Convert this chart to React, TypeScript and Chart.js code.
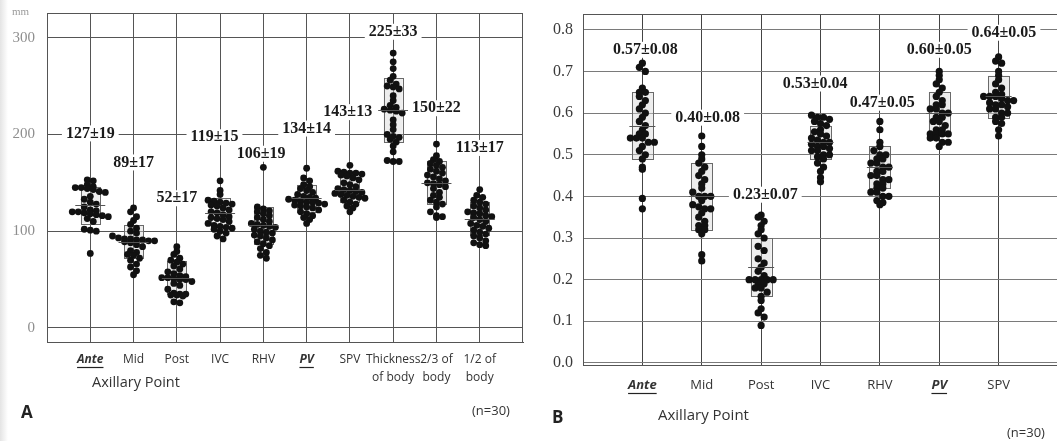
import React, { useEffect, useRef } from "react";
import { Chart, registerables } from "chart.js";

Chart.register(...registerables);

// ---------- Panel A data (mm) ----------
const catsA: (string | string[])[] = ["Ante", "Mid", "Post", "IVC", "RHV", "PV", "SPV", ["Thickness", "of body"], ["2/3 of", "body"], ["1/2 of", "body"]];
const emphA = [0, 5];
const yTicksA = [0, 100, 200, 300];
const meansA = [127, 89, 52, 119, 106, 134, 143, 225, 150, 113];
const sdA = [19, 17, 17, 15, 19, 14, 13, 33, 22, 17];
const labelXA = [0, 1, 2, 2.87, 3.95, 5, 5.95, 7, 8, 9];
const labelYA = [201, 171, 134, 197, 180, 206, 223, 306, 227, 186];

const anteA = [153, 152, 148, 146, 145, 145, 144, 143, 141, 140, 136, 133, 130, 128, 125, 122, 121, 120, 120, 119, 118, 117, 116, 115, 113, 110, 102, 101, 100, 77];
const midA = [124, 120, 115, 111, 107, 103, 100, 98, 95, 93, 92, 92, 91, 91, 90, 90, 89, 88, 86, 84, 80, 78, 76, 75, 72, 70, 66, 63, 59, 55];
const postA = [84, 79, 76, 72, 70, 68, 66, 64, 61, 58, 56, 54, 53, 52, 52, 51, 50, 50, 48, 46, 44, 40, 36, 35, 35, 34, 34, 33, 27, 26];
const ivcA = [152, 142, 138, 132, 131, 130, 129, 128, 127, 126, 124, 122, 120, 119, 117, 115, 114, 113, 112, 110, 108, 106, 105, 104, 103, 102, 100, 98, 95, 92];
const rhvA = [166, 125, 123, 121, 120, 118, 116, 114, 112, 110, 108, 107, 106, 105, 104, 102, 100, 99, 98, 96, 95, 93, 91, 89, 87, 85, 82, 78, 75, 72];
const pvA = [165, 155, 152, 148, 146, 144, 142, 140, 138, 136, 135, 134, 133, 132, 131, 130, 130, 129, 128, 127, 126, 125, 124, 122, 120, 118, 116, 114, 112, 108];
const spvA = [168, 162, 161, 160, 160, 159, 158, 157, 155, 153, 150, 148, 146, 144, 143, 142, 141, 140, 139, 138, 137, 136, 135, 134, 132, 130, 128, 126, 124, 120];
const thickA = [284, 275, 268, 260, 256, 252, 250, 249, 247, 240, 235, 230, 228, 226, 225, 224, 222, 215, 210, 205, 200, 198, 197, 195, 192, 188, 182, 173, 172, 172];
const twoThirdA = [190, 178, 174, 172, 170, 168, 166, 164, 162, 160, 158, 156, 154, 152, 150, 149, 148, 146, 144, 140, 137, 135, 132, 130, 128, 125, 120, 116, 115, 114];
const halfA = [143, 137, 135, 132, 130, 128, 126, 124, 122, 120, 119, 118, 116, 115, 114, 112, 110, 108, 106, 105, 103, 101, 99, 97, 95, 93, 90, 88, 86, 85];
const seriesA = [anteA, midA, postA, ivcA, rhvA, pvA, spvA, thickA, twoThirdA, halfA];

// ---------- Panel B data (ratio) ----------
const catsB: string[] = ["Ante", "Mid", "Post", "IVC", "RHV", "PV", "SPV"];
const emphB = [0, 5];
const yTicksB = [0, 0.1, 0.2, 0.3, 0.4, 0.5, 0.6, 0.7, 0.8];
const meansB = [0.57, 0.4, 0.23, 0.53, 0.47, 0.6, 0.64];
const sdB = [0.08, 0.08, 0.07, 0.04, 0.05, 0.05, 0.05];
const labelXB = [0.05, 1.1, 2.07, 2.91, 4.04, 5.0, 6.09];
const labelYB = [0.752, 0.589, 0.404, 0.671, 0.625, 0.752, 0.793];

const anteB = [0.72, 0.71, 0.7, 0.66, 0.65, 0.65, 0.64, 0.63, 0.62, 0.61, 0.6, 0.59, 0.58, 0.57, 0.56, 0.55, 0.55, 0.54, 0.54, 0.54, 0.53, 0.53, 0.52, 0.51, 0.5, 0.49, 0.47, 0.465, 0.395, 0.37];
const midB = [0.545, 0.52, 0.5, 0.49, 0.48, 0.47, 0.46, 0.45, 0.44, 0.43, 0.42, 0.41, 0.4, 0.4, 0.4, 0.39, 0.38, 0.375, 0.37, 0.37, 0.36, 0.35, 0.34, 0.33, 0.33, 0.32, 0.32, 0.31, 0.26, 0.245];
const postB = [0.355, 0.35, 0.34, 0.33, 0.32, 0.31, 0.3, 0.28, 0.27, 0.25, 0.24, 0.23, 0.22, 0.21, 0.2, 0.2, 0.2, 0.2, 0.2, 0.19, 0.19, 0.18, 0.18, 0.17, 0.16, 0.15, 0.13, 0.12, 0.11, 0.09];
const ivcB = [0.595, 0.59, 0.59, 0.585, 0.58, 0.575, 0.57, 0.56, 0.555, 0.55, 0.545, 0.54, 0.535, 0.53, 0.53, 0.525, 0.52, 0.52, 0.515, 0.51, 0.51, 0.5, 0.5, 0.495, 0.49, 0.48, 0.47, 0.46, 0.445, 0.435];
const rhvB = [0.58, 0.56, 0.53, 0.52, 0.51, 0.5, 0.5, 0.49, 0.49, 0.48, 0.48, 0.47, 0.47, 0.46, 0.46, 0.45, 0.45, 0.44, 0.44, 0.43, 0.43, 0.42, 0.42, 0.41, 0.41, 0.4, 0.4, 0.39, 0.385, 0.38];
const pvB = [0.7, 0.69, 0.68, 0.67, 0.66, 0.65, 0.64, 0.63, 0.62, 0.62, 0.61, 0.61, 0.6, 0.6, 0.59, 0.59, 0.58, 0.58, 0.57, 0.56, 0.56, 0.55, 0.55, 0.55, 0.55, 0.54, 0.54, 0.53, 0.53, 0.52];
const spvB = [0.735, 0.725, 0.72, 0.7, 0.69, 0.68, 0.67, 0.66, 0.65, 0.645, 0.64, 0.64, 0.64, 0.635, 0.63, 0.63, 0.625, 0.62, 0.62, 0.615, 0.61, 0.61, 0.6, 0.6, 0.59, 0.59, 0.58, 0.575, 0.56, 0.545];
const seriesB = [anteB, midB, postB, ivcB, rhvB, pvB, spvB];

// ---------- helpers ----------
function swarmPoints(series: number[][], pxPerY: number, pxPerX: number, step: number) {
  const pts: { x: number; y: number }[] = [];
  series.forEach((vals, i) => {
    const bins = new Map<number, number[]>();
    vals.forEach((v, k) => {
      const b = Math.round((v * pxPerY) / step);
      if (!bins.has(b)) bins.set(b, []);
      bins.get(b)!.push(k);
    });
    bins.forEach((ks) => {
      ks.forEach((k, j) => {
        const off = ((j - (ks.length - 1) / 2) * step) / pxPerX;
        pts.push({ x: i + off, y: vals[k] });
      });
    });
  });
  return pts;
}

function boxPlugin(means: number[], sds: number[], halfW: number, meanHalf: number) {
  return {
    id: "boxes",
    beforeDatasetsDraw(chart: any) {
      const { ctx, scales } = chart;
      const x = scales.x, y = scales.y;
      ctx.save();
      means.forEach((m, i) => {
        const px = x.getPixelForValue(i);
        const top = y.getPixelForValue(m + sds[i]);
        const bot = y.getPixelForValue(m - sds[i]);
        ctx.fillStyle = "rgba(215,215,215,0.45)";
        ctx.fillRect(px - halfW, top, halfW * 2, bot - top);
        ctx.strokeStyle = "#6a6a6a";
        ctx.lineWidth = 1;
        ctx.strokeRect(Math.round(px - halfW) + 0.5, Math.round(top) + 0.5, Math.round(halfW * 2), Math.round(bot - top));
      });
      ctx.restore();
    },
    afterDatasetsDraw(chart: any) {
      const { ctx, scales } = chart;
      const x = scales.x, y = scales.y;
      ctx.save();
      ctx.strokeStyle = "#555";
      ctx.lineWidth = 1;
      means.forEach((m, i) => {
        const px = x.getPixelForValue(i);
        const py = Math.round(y.getPixelForValue(m)) + 0.5;
        ctx.beginPath();
        ctx.moveTo(px - meanHalf, py);
        ctx.lineTo(px + meanHalf, py);
        ctx.stroke();
      });
      ctx.restore();
    },
  };
}

function labelPlugin(texts: string[], lx: number[], ly: number[], font: string) {
  return {
    id: "statLabels",
    afterDatasetsDraw(chart: any) {
      const { ctx, scales } = chart;
      ctx.save();
      ctx.font = font;
      ctx.textAlign = "center";
      ctx.textBaseline = "middle";
      texts.forEach((t, i) => {
        const px = scales.x.getPixelForValue(lx[i]);
        const py = scales.y.getPixelForValue(ly[i]);
        const w = ctx.measureText(t).width;
        ctx.fillStyle = "#fff";
        ctx.fillRect(px - w / 2 - 4, py - 8, w + 8, 16);
        ctx.fillStyle = "#1a1a1a";
        ctx.fillText(t, px, py);
      });
      ctx.restore();
    },
  };
}

function framePlugin(color: string, right: boolean) {
  return {
    id: "frame",
    afterDraw(chart: any) {
      const { ctx, chartArea: a } = chart;
      ctx.save();
      ctx.strokeStyle = color;
      ctx.lineWidth = 1;
      ctx.beginPath();
      ctx.moveTo(a.left, Math.round(a.top) + 0.5);
      ctx.lineTo(a.right, Math.round(a.top) + 0.5);
      if (right) {
        ctx.moveTo(Math.round(a.right) - 0.5, a.top);
        ctx.lineTo(Math.round(a.right) - 0.5, a.bottom);
      }
      ctx.stroke();
      ctx.restore();
    },
  };
}

function underlinePlugin(cats: (string | string[])[], emph: number[], size: number, pad: number, lh: number) {
  return {
    id: "underline",
    afterDraw(chart: any) {
      const { ctx, scales } = chart;
      const x = scales.x;
      ctx.save();
      ctx.font = `italic bold ${size}px "Open Sans"`;
      ctx.strokeStyle = "#222";
      ctx.lineWidth = 1.2;
      emph.forEach((i) => {
        const t = String(cats[i]);
        const w = ctx.measureText(t).width;
        const px = x.getPixelForValue(i);
        const py = Math.round(x.top + pad + lh / 2 + size * 0.62) + 0.5;
        ctx.beginPath();
        ctx.moveTo(px - w / 2, py);
        ctx.lineTo(px + w / 2, py);
        ctx.stroke();
      });
      ctx.restore();
    },
  };
}

const noPad = (s: any) => {
  s.paddingTop = 0;
  s.paddingBottom = 0;
  s.paddingLeft = 0;
  s.paddingRight = 0;
};

const SANS = '"Open Sans", "Noto Sans", sans-serif';
const SERIF = '"Liberation Serif", "DejaVu Serif", serif';

function PanelA() {
  const ref = useRef<HTMLCanvasElement>(null);
  useEffect(() => {
    const size = 12, lh = 18, pad = 9;
    const chart = new Chart(ref.current!, {
      type: "scatter",
      data: {
        datasets: [
          {
            data: swarmPoints(seriesA, 0.968, 43.2, 6),
            pointRadius: 3.4,
            pointBackgroundColor: "#111",
            pointBorderWidth: 0,
          },
        ],
      },
      options: {
        animation: false,
        responsive: false,
        maintainAspectRatio: false,
        layout: { padding: { left: 0, right: 7, top: 13, bottom: 0 } },
        plugins: { legend: { display: false }, tooltip: { enabled: false } },
        scales: {
          x: {
            type: "linear",
            min: -1,
            max: 10,
            afterBuildTicks: (s: any) => {
              s.ticks = catsA.map((_, i) => ({ value: i }));
            },
            afterFit: (s: any) => {
              s.height = 99;
              noPad(s);
            },
            grid: { color: "#555", lineWidth: 1, drawTicks: false },
            border: { display: true, color: "#555" },
            ticks: {
              padding: pad,
              autoSkip: false,
              maxRotation: 0,
              color: "#333",
              callback: (v: any) => catsA[v as number] as any,
              font: (c: any) => {
                const e = c.tick && emphA.includes(c.tick.value);
                return { family: SANS, size, lineHeight: lh / size, weight: e ? "bold" : "normal", style: e ? "italic" : "normal" } as any;
              },
            },
          },
          y: {
            min: -14.5,
            max: 325.4,
            afterBuildTicks: (s: any) => {
              s.ticks = yTicksA.map((v) => ({ value: v }));
            },
            afterFit: (s: any) => {
              s.width = 47;
              noPad(s);
            },
            grid: { color: "#555", lineWidth: 1, drawTicks: false },
            border: { display: true, color: "#555" },
            ticks: { padding: 12, color: "#8e8e8e", font: { family: SERIF, size: 15 } },
          },
        },
      },
      plugins: [
        boxPlugin(meansA, sdA, 9.5, 15),
        labelPlugin(meansA.map((m, i) => `${m}±${sdA[i]}`), labelXA, labelYA, `bold 16px ${SERIF}`),
        framePlugin("#555", true),
        underlinePlugin(catsA, emphA, size, pad, lh),
      ],
    } as any);
    return () => chart.destroy();
  }, []);
  return <canvas ref={ref} width={530} height={441} style={{ position: "absolute", left: 0, top: 0, width: 530, height: 441 }} />;
}

function PanelB() {
  const ref = useRef<HTMLCanvasElement>(null);
  useEffect(() => {
    const size = 13, lh = 18, pad = 11;
    const chart = new Chart(ref.current!, {
      type: "scatter",
      data: {
        datasets: [
          {
            data: swarmPoints(seriesB, 416, 59.4, 6),
            pointRadius: 3.6,
            pointBackgroundColor: "#111",
            pointBorderWidth: 0,
          },
        ],
      },
      options: {
        animation: false,
        responsive: false,
        maintainAspectRatio: false,
        layout: { padding: { left: 0, right: 7, top: 14, bottom: 0 } },
        plugins: { legend: { display: false }, tooltip: { enabled: false } },
        scales: {
          x: {
            type: "linear",
            min: -1,
            max: 7,
            afterBuildTicks: (s: any) => {
              s.ticks = catsB.map((_, i) => ({ value: i }));
            },
            afterFit: (s: any) => {
              s.height = 76;
              noPad(s);
            },
            grid: { color: "#444", lineWidth: 1, drawTicks: false },
            border: { display: true, color: "#555" },
            ticks: {
              padding: pad,
              autoSkip: false,
              maxRotation: 0,
              color: "#333",
              callback: (v: any) => catsB[v as number] as any,
              font: (c: any) => {
                const e = c.tick && emphB.includes(c.tick.value);
                return { family: SANS, size, lineHeight: lh / size, weight: e ? "bold" : "normal", style: e ? "italic" : "normal" } as any;
              },
            },
          },
          y: {
            min: -0.005,
            max: 0.838,
            afterBuildTicks: (s: any) => {
              s.ticks = yTicksB.map((v) => ({ value: v }));
            },
            afterFit: (s: any) => {
              s.width = 63;
              noPad(s);
            },
            grid: { color: "#7a7a7a", lineWidth: 1, drawTicks: false },
            border: { display: true, color: "#555" },
            ticks: {
              padding: 10,
              color: "#3a3a3a",
              font: { family: SERIF, size: 16 },
              callback: (v: any) => Number(v).toFixed(1),
            },
          },
        },
      },
      plugins: [
        boxPlugin(meansB, sdB, 10.5, 13),
        labelPlugin(meansB.map((m, i) => `${m.toFixed(2)}±${sdB[i].toFixed(2)}`), labelXB, labelYB, `bold 16px ${SERIF}`),
        framePlugin("#555", false),
        underlinePlugin(catsB, emphB, size, pad, lh),
      ],
    } as any);
    return () => chart.destroy();
  }, []);
  return <canvas ref={ref} width={545} height={441} style={{ position: "absolute", left: 520, top: 0, width: 545, height: 441 }} />;
}

const txt = (s: React.CSSProperties): React.CSSProperties => ({ position: "absolute", whiteSpace: "nowrap", lineHeight: 1, ...s });

export default function App() {
  return (
    <div style={{ position: "absolute", left: 0, top: 0, width: 1057, height: 441, overflow: "hidden", background: "#fff" }}>
      <div style={{ position: "absolute", left: 0, top: 0, width: 8, height: 441, background: "linear-gradient(to right, #e4e4e4, #fff)" }} />
      <PanelA />
      <PanelB />
      <div style={txt({ left: 12, top: 6, fontFamily: SERIF, fontSize: 11, color: "#9a9a9a" })}>mm</div>
      <div style={txt({ left: 92, top: 375, fontFamily: SANS, fontSize: 14.5, color: "#333" })}>Axillary Point</div>
      <div style={txt({ left: 21, top: 403, fontFamily: SANS, fontSize: 17, fontWeight: "bold", color: "#222" })}>A</div>
      <div style={txt({ left: 472, top: 404, fontFamily: SANS, fontSize: 13, color: "#333" })}>(n=30)</div>
      <div style={txt({ left: 552, top: 408, fontFamily: SANS, fontSize: 17, fontWeight: "bold", color: "#222" })}>B</div>
      <div style={txt({ left: 658, top: 407, fontFamily: SANS, fontSize: 15, color: "#333" })}>Axillary Point</div>
      <div style={txt({ left: 1007, top: 426, fontFamily: SANS, fontSize: 13, color: "#333" })}>(n=30)</div>
    </div>
  );
}
